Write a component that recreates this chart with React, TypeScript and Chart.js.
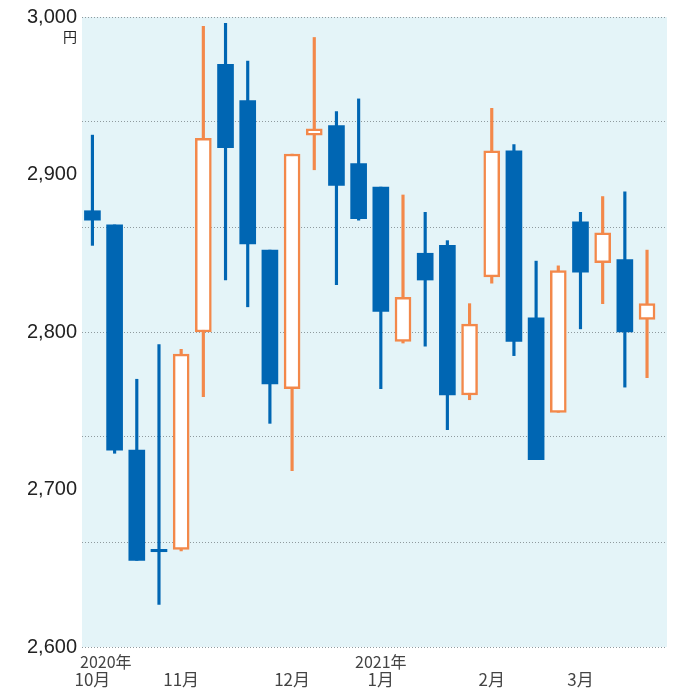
import React, { useEffect, useRef } from "react";
import { Chart, registerables } from "chart.js";

Chart.register(...registerables);

// Weekly candles, Oct 2020 – Mar 2021 (index = week number)
const opens = [2877, 2868, 2725, 2662, 2662, 2800, 2970, 2947, 2852, 2764, 2925, 2931, 2907, 2892, 2794, 2850, 2855, 2760, 2835, 2915, 2809, 2749, 2870, 2844, 2846, 2808];
const highs = [2925, 2868, 2770, 2792, 2789, 2994, 2996, 2972, 2852, 2913, 2987, 2940, 2948, 2892, 2887, 2876, 2858, 2818, 2942, 2919, 2845, 2842, 2876, 2886, 2889, 2852];
const lows = [2855, 2723, 2655, 2627, 2661, 2759, 2833, 2816, 2742, 2712, 2903, 2830, 2871, 2764, 2793, 2791, 2738, 2757, 2831, 2785, 2719, 2749, 2802, 2818, 2765, 2771];
const closes = [2871, 2725, 2655, 2660.5, 2786, 2923, 2917, 2856, 2767, 2913, 2929, 2893, 2872, 2813, 2822, 2833, 2760, 2805, 2915, 2794, 2719, 2839, 2838, 2863, 2800, 2818];

const monthTickIndex = [0, 4, 9, 13, 18, 22];
const monthTickLabels = ["10月", "11月", "12月", "1月", "2月", "3月"];
const yearTickLabels = ["2020年", "", "", "2021年", "", ""];

const yMin = 2600;
const yMax = 3000;
const yLabelStep = 100;
const yGridStep = 200 / 3;
const yUnit = "円";

const BLUE = "#0066B3";
const ORANGE = "#F3884A";
const BG = "#E4F4F8";

export default function App() {
  const canvasRef = useRef<HTMLCanvasElement | null>(null);

  useEffect(() => {
    document.body.style.margin = "0";
    const canvas = canvasRef.current;
    if (!canvas) return;

    const idx = opens.map((_, i) => i);
    const isUp = idx.map((i) => closes[i] > opens[i]);

    const bgPlugin = {
      id: "bgPlugin",
      beforeDraw(chart: any) {
        const { ctx, chartArea } = chart;
        ctx.save();
        ctx.fillStyle = BG;
        ctx.fillRect(chartArea.left, chartArea.top, chartArea.right - chartArea.left, chartArea.bottom - chartArea.top);
        ctx.restore();
      },
      afterDraw(chart: any) {
        const { ctx, chartArea } = chart;
        const ys = chart.scales.y;
        const xs = chart.scales.x;
        ctx.save();
        ctx.fillStyle = "#222";
        ctx.font = '14px "Noto Sans CJK JP", sans-serif';
        ctx.textAlign = "right";
        ctx.textBaseline = "middle";
        ctx.fillText(yUnit, ys.right - 5, ys.getPixelForValue(yMax) + 20);

        ctx.fillStyle = "#444";
        ctx.font = '16px "Noto Sans CJK JP", sans-serif';
        yearTickLabels.forEach((lab, k) => {
          if (!lab) return;
          const px = xs.getPixelForValue(monthTickIndex[k]);
          if (k === 0) {
            ctx.textAlign = "left";
            ctx.fillText(lab, chartArea.left - 2, xs.top + 15);
          } else {
            ctx.textAlign = "center";
            ctx.fillText(lab, px, xs.top + 15);
          }
        });
        ctx.restore();
      },
    };

    const chart = new Chart(canvas, {
      type: "bar",
      data: {
        datasets: [
          {
            label: "wick",
            data: idx.map((i) => ({ x: i, y: [lows[i], highs[i]] })) as any,
            backgroundColor: idx.map((i) => (isUp[i] ? ORANGE : BLUE)),
            borderWidth: 0,
            barThickness: 2.5,
            grouped: false,
            order: 2,
          } as any,
          {
            label: "body",
            data: idx.map((i) => ({ x: i, y: [opens[i], closes[i]] })) as any,
            backgroundColor: idx.map((i) => (isUp[i] ? "#ffffff" : BLUE)),
            borderColor: idx.map((i) => (isUp[i] ? ORANGE : BLUE)),
            borderWidth: idx.map((i) => (isUp[i] ? 2.5 : 0)),
            borderSkipped: false,
            barThickness: 16,
            minBarLength: 2,
            grouped: false,
            order: 1,
          } as any,
        ],
      },
      options: {
        animation: false,
        responsive: true,
        maintainAspectRatio: false,
        layout: { padding: { top: 15, right: 13, left: 0, bottom: 0 } },
        plugins: { legend: { display: false }, tooltip: { enabled: false }, title: { display: false } },
        scales: {
          x: {
            type: "linear",
            min: -0.47,
            max: 25.9,
            bounds: "data",
            offset: false,
            grid: { display: false, drawTicks: false, offset: false },
            border: { display: false },
            afterBuildTicks: (scale: any) => {
              scale.ticks = monthTickIndex.map((v) => ({ value: v }));
            },
            afterFit: (scale: any) => {
              scale.height = 42;
            },
            ticks: {
              autoSkip: false,
              maxRotation: 0,
              padding: 22,
              color: "#444",
              font: { size: 17, family: '"Noto Sans CJK JP", sans-serif' },
              callback: (value: any) => {
                const k = monthTickIndex.indexOf(Number(value));
                return k >= 0 ? monthTickLabels[k] : "";
              },
            },
          } as any,
          y: {
            type: "linear",
            min: yMin,
            max: yMax,
            afterBuildTicks: (scale: any) => {
              const n = Math.round((yMax - yMin) / (yLabelStep / 3));
              const t = [];
              for (let k = 0; k <= n; k++) t.push({ value: yMin + (k * yLabelStep) / 3 });
              scale.ticks = t;
            },
            afterFit: (scale: any) => {
              scale.width = 82;
            },
            grid: {
              drawTicks: false,
              lineWidth: 1,
              color: (ctx: any) => {
                const v = ctx.tick ? ctx.tick.value - yMin : 0;
                const r = v / yGridStep;
                return Math.abs(r - Math.round(r)) < 1e-6 ? "#8f9a9e" : "rgba(0,0,0,0)";
              },
            },
            border: { display: false, dash: [1, 2] },
            ticks: {
              autoSkip: false,
              padding: 5,
              color: "#222",
              font: { size: 20, family: '"Liberation Sans", Arial, sans-serif' },
              callback: (value: any) => {
                const v = Number(value) - yMin;
                const r = v / yLabelStep;
                return Math.abs(r - Math.round(r)) < 1e-6 ? Math.round(Number(value)).toLocaleString("en-US") : "";
              },
            },
          } as any,
        },
      } as any,
      plugins: [bgPlugin],
    });

    return () => chart.destroy();
  }, []);

  return (
    <div style={{ width: 680, height: 689, position: "relative" }}>
      <canvas ref={canvasRef} />
    </div>
  );
}
